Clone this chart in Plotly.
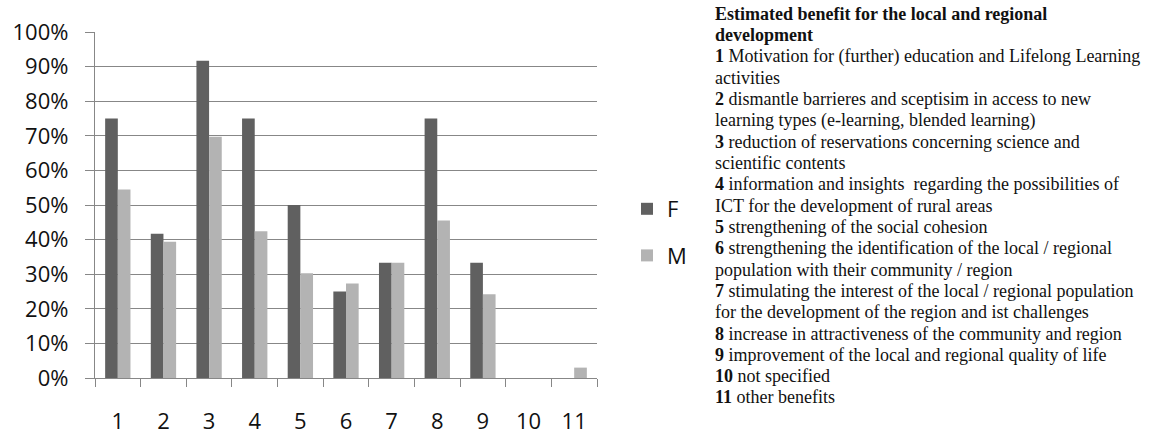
import plotly.graph_objects as go

categories = ["1", "2", "3", "4", "5", "6", "7", "8", "9", "10", "11"]
f_values = [0.75, 0.417, 0.917, 0.75, 0.50, 0.25, 0.333, 0.75, 0.333, 0.0, 0.0]
m_values = [0.545, 0.394, 0.697, 0.424, 0.303, 0.273, 0.333, 0.455, 0.242, 0.0, 0.03]
series_names = ["F", "M"]
y_ticks = [0, 0.1, 0.2, 0.3, 0.4, 0.5, 0.6, 0.7, 0.8, 0.9, 1.0]

note_title = ["Estimated benefit for the local and regional", "development"]
note_items = [
    ("1", ["Motivation for (further) education and Lifelong Learning", "activities"]),
    ("2", ["dismantle barrieres and sceptisim in access to new", "learning types (e-learning, blended learning)"]),
    ("3", ["reduction of reservations concerning science and", "scientific contents"]),
    ("4", ["information and insights  regarding the possibilities of", "ICT for the development of rural areas"]),
    ("5", ["strengthening of the social cohesion"]),
    ("6", ["strengthening the identification of the local / regional", "population with their community / region"]),
    ("7", ["stimulating the interest of the local / regional population", "for the development of the region and ist challenges"]),
    ("8", ["increase in attractiveness of the community and region"]),
    ("9", ["improvement of the local and regional quality of life"]),
    ("10", ["not specified"]),
    ("11", ["other benefits"]),
]

F_COLOR = "#606060"
M_COLOR = "#b3b3b3"
GRID = "#878787"
TICK_FONT = dict(family="Open Sans", size=22, color="#111111")

fig = go.Figure()
fig.add_trace(go.Bar(x=categories, y=f_values, name=series_names[0],
                     marker=dict(color=F_COLOR, line=dict(width=0)),
                     legendgroup="f"))
fig.add_trace(go.Bar(x=categories, y=m_values, name=series_names[1],
                     marker=dict(color=M_COLOR, line=dict(width=0)),
                     legendgroup="m"))

W, H = 1161, 434
L, R, T, B = 95, 564, 32, 56
pw = W - L - R
ph = H - T - B

lines = ["<b>%s</b>" % t for t in note_title]
for num, parts in note_items:
    lines.append("<b>%s</b> %s" % (num, parts[0]))
    lines.extend(parts[1:])

first_y, spacing = 14.0, 21.3
for i, line in enumerate(lines):
    ypx = first_y + i * spacing
    fig.add_annotation(
        text=line, xref="paper", yref="paper",
        x=(713 - L) / pw, y=1 - (ypx - T) / ph, xanchor="left", yanchor="middle",
        align="left", showarrow=False,
        font=dict(family="Liberation Serif", size=18.0, color="#111111"),
    )

fig.update_layout(
    width=W, height=H,
    margin=dict(l=L, r=R, t=T, b=B, autoexpand=False),
    plot_bgcolor="white", paper_bgcolor="white",
    barmode="group", bargap=0.445, bargroupgap=0,
    showlegend=True,
    legend=dict(
        x=(627 - L) / pw, y=1 - (188 - T) / ph, xanchor="left", yanchor="top",
        font=dict(family="Open Sans", size=22, color="#111111"),
        tracegroupgap=15, itemwidth=30, bgcolor="rgba(0,0,0,0)",
    ),
    xaxis=dict(
        type="category", tickson="boundaries", ticks="outside", ticklen=8,
        tickcolor=GRID, tickwidth=1.3, showline=True, linecolor=GRID, linewidth=1.3,
        showgrid=False, tickfont=TICK_FONT, ticklabelstandoff=23, automargin=False,
    ),
    yaxis=dict(
        range=[0, 1], tickvals=y_ticks, tickformat=".0%", ticks="outside", ticklen=9,
        tickcolor=GRID, tickwidth=1.3, showline=True, linecolor=GRID, linewidth=1.3,
        showgrid=True, gridcolor=GRID, gridwidth=1.3, zeroline=False,
        tickfont=TICK_FONT, ticklabelstandoff=12, automargin=False,
    ),
)

fig.write_html("out.html", config={"displayModeBar": False},
               post_script="document.body.style.margin='0px';")
